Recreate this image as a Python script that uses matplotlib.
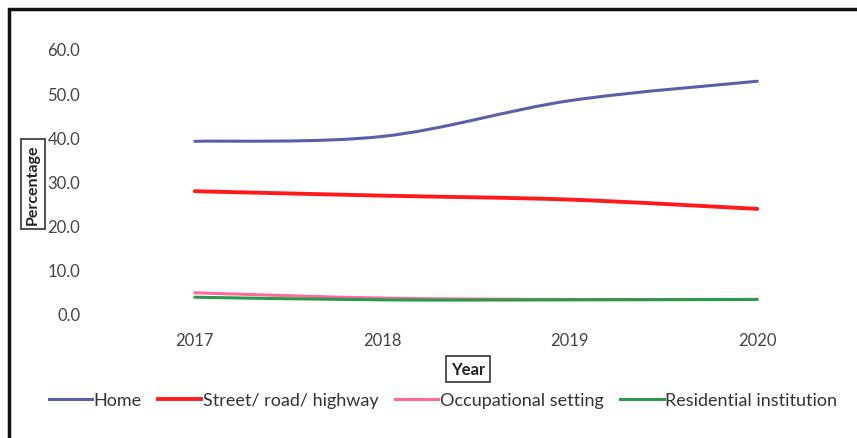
import matplotlib
matplotlib.use("Agg")
import matplotlib.pyplot as plt
from matplotlib.path import Path
from matplotlib.patches import PathPatch, Rectangle
from matplotlib.lines import Line2D
import numpy as np

years = ["2017", "2018", "2019", "2020"]
home = [39.1, 40.2, 48.3, 52.7]
street = [27.8, 26.8, 25.9, 23.8]
occupational = [4.8, 3.6, 3.3, 3.3]
residential = [3.8, 3.2, 3.2, 3.3]
series_names = ["Home", "Street/ road/ highway", "Occupational setting", "Residential institution"]
colors = ["#5b5fa8", "#ff1a1a", "#ff6a9a", "#2a9a4a"]
y_ticks = [0, 10, 20, 30, 40, 50, 60]

plt.rcParams['font.family'] = ['Lato', 'DejaVu Sans']

fig = plt.figure(figsize=(8.57, 4.39), dpi=100)
ax = fig.add_axes([101/857, 1-315/439, 750/857, 265/439])

def smooth_path(xs, ys):
    # Catmull-Rom style Bezier smoothing (like Excel smoothed lines)
    pts = list(zip(xs, ys))
    verts = [pts[0]]
    codes = [Path.MOVETO]
    n = len(pts)
    for i in range(n - 1):
        p0 = pts[i - 1] if i > 0 else pts[i]
        p1 = pts[i]
        p2 = pts[i + 1]
        p3 = pts[i + 2] if i + 2 < n else pts[i + 1]
        t = 1/6
        c1 = (p1[0] + (p2[0] - p0[0]) * t, p1[1] + (p2[1] - p0[1]) * t)
        c2 = (p2[0] - (p3[0] - p1[0]) * t, p2[1] - (p3[1] - p1[1]) * t)
        verts += [c1, c2, p2]
        codes += [Path.CURVE4] * 3
    return Path(verts, codes)

xs = np.arange(len(years))
handles = []
for vals, name, c in zip([home, street, occupational, residential], series_names, colors):
    lw = 2.8 if c == "#ff1a1a" else 2.2
    ax.add_patch(PathPatch(smooth_path(xs, vals), facecolor="none", edgecolor=c, lw=lw,
                           capstyle="round", joinstyle="round"))
    handles.append(Line2D([], [], color=c, lw=lw))

ax.set_xlim(-0.5, 3.5)
ax.set_ylim(0, 60)
ax.set_xticks(xs)
ax.set_xticklabels(years)
ax.set_yticks(y_ticks)
ax.set_yticklabels([f"{v:.1f}" for v in y_ticks])
for s in ax.spines.values():
    s.set_visible(False)
ax.tick_params(axis="both", length=0, labelsize=12, colors="#444444")
ax.tick_params(axis="x", pad=13)
ax.tick_params(axis="y", pad=15)

fig.text(33/857, 1-185/439, "Percentage", rotation=90, ha="center", va="center",
         fontsize=11.5, fontweight="bold", color="#222222",
         bbox=dict(boxstyle="square,pad=0.3", fc="white", ec="#333333", lw=1.2))
fig.text(468/857, 1-370/439, "Year", ha="center", va="center",
         fontsize=12, fontweight="bold", color="#222222",
         bbox=dict(boxstyle="square,pad=0.3", fc="white", ec="#333333", lw=1.2))

fig.legend(handles, series_names, loc="center", bbox_to_anchor=(443/857, 1-401/439),
           ncol=4, frameon=False, fontsize=13, handlelength=2.4, handletextpad=0.1,
           columnspacing=0.9, labelcolor="#333333")

fig.add_artist(Rectangle((9/857, -0.05), 1.0, 1 - 10/439 + 0.05, transform=fig.transFigure,
                         fill=False, ec="#111111", lw=2.5))

fig.savefig("out.png", dpi=100)
